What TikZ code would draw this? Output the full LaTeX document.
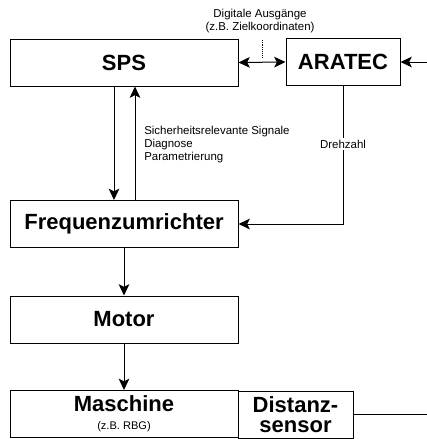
\documentclass[tikz,border=0pt]{standalone}
\usepackage{fontspec}
\setmainfont{Liberation Sans}
\usetikzlibrary{arrows.meta,calc}

\tikzset{
  block/.style={draw, line width=0.75pt, minimum width=171pt, minimum height=35.25pt, inner sep=0pt, font=\fontsize{16.5}{18}\selectfont\bfseries},
  linie/.style={line width=0.75pt},
  klein/.style={font=\fontsize{8.6}{9.75}\selectfont, inner sep=0pt},
}

\begin{document}
\begin{tikzpicture}[x=0.75pt,y=0.75pt,yscale=-1,>={Stealth[length=8.5pt,width=8pt,inset=2pt,fill=black]}]
\useasboundingbox (0,0) rectangle (427,439);

%Shape: Rectangle
\node[block] (sps) at (124,62.5) {SPS};
%Shape: Rectangle
\node[block, minimum width=85.5pt] (aratec) at (343,62) {ARATEC};
%Shape: Rectangle
\node[block] (fu) at (124,224) {Frequenzumrichter};
%Shape: Rectangle
\node[block] (motor) at (124,319.5) {Motor};
%Shape: Rectangle
\node[block, align=center] (maschine) at (124,414) {Maschine\\[-4.5pt]{\fontsize{8.3}{9}\selectfont\mdseries (z.B. RBG)}};
%Shape: Rectangle
\node[block, minimum width=86.25pt, align=center, font=\fontsize{16.5}{15.5}\selectfont\bfseries] (sensor) at (295.5,414.5) {Distanz-\\sensor};

\coordinate (ein) at (427,62);
\coordinate (aus) at (427,414.5);
\coordinate (mitte) at ($(sps.east)!0.5!(aratec.west)$);

% Text Node
\node[klein, align=center] (dig) at (260,21) {Digitale Ausgänge\\(z.B. Zielkoordinaten)};
% Text Node
\node[klein, align=left, anchor=west] (sig) at (144,145) {Sicherheitsrelevante Signale\\Diagnose\\Parametrierung};

%Straight Lines
\draw[linie, <->] (sps.east) -- (aratec.west);
\draw[densely dotted, shorten <=5pt, shorten >=3pt] (mitte |- dig.south) -- (mitte);
%Straight Lines
\draw[linie, ->] (ein) -- (aratec.east);
%Straight Lines
\draw[linie, ->] ([xshift=-7.5pt]sps.south) -- ([xshift=-7.5pt]fu.north);
\draw[linie, ->] ([xshift=8.25pt]fu.north) -- ([xshift=8.25pt]sps.south);
%Straight Lines
\draw[linie, ->] (aratec.south) -- (aratec.south |- fu.east) node[klein, fill=white, inner sep=1.5pt, pos=0.42] {Drehzahl} -- (fu.east);
%Straight Lines
\draw[linie, ->] (fu) -- (motor);
\draw[linie, ->] (motor) -- (maschine);
%Straight Lines
\draw[linie] (sensor.east) -- (aus);

\end{tikzpicture}
\end{document}
